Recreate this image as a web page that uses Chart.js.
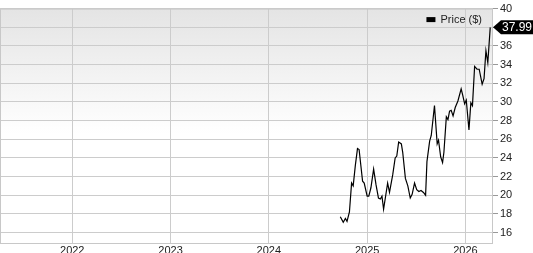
<!DOCTYPE html>
<html>
<head>
<meta charset="utf-8">
<script src="https://cdn.jsdelivr.net/npm/chart.js@4"></script>
<style>
  html, body { margin: 0; padding: 0; background: #fff; }
  #wrap { width: 533px; height: 253px; }
</style>
</head>
<body>
<div id="wrap"><canvas id="price_chart"></canvas></div>
<script>
// weekly-ish closes
var dates = ['2024-09-23','2024-10-04','2024-10-12','2024-10-18','2024-10-27','2024-11-04','2024-11-10','2024-11-18','2024-11-26','2024-12-02','2024-12-15','2024-12-21',
  '2025-01-01','2025-01-07','2025-01-15','2025-01-25','2025-02-03','2025-02-12','2025-02-19','2025-02-25','2025-03-03','2025-03-18','2025-03-25',
  '2025-04-06','2025-04-15','2025-04-21','2025-04-28','2025-05-08','2025-05-13','2025-05-23','2025-06-01','2025-06-10','2025-06-17','2025-06-26',
  '2025-07-04','2025-07-12','2025-07-20','2025-07-29','2025-08-06','2025-08-11','2025-08-21','2025-08-27','2025-09-08','2025-09-18','2025-09-23',
  '2025-10-01','2025-10-08','2025-10-13','2025-10-22','2025-10-28','2025-11-03','2025-11-09','2025-11-16','2025-11-24','2025-12-04','2025-12-16',
  '2025-12-22','2025-12-29','2026-01-04','2026-01-14','2026-01-21','2026-01-27','2026-02-04','2026-02-13','2026-02-21','2026-03-04','2026-03-11',
  '2026-03-18','2026-03-25','2026-04-03'];
var prices = [17.7,17.1,17.5,17.2,18.2,21.3,21.0,23.2,25.0,24.9,21.5,21.3,
  19.9,19.9,20.8,22.8,21.1,19.7,19.6,19.9,18.5,21.3,20.3,
  22.2,24.0,24.2,25.7,25.5,24.6,21.8,21.0,19.7,20.1,21.3,
  20.6,20.4,20.5,20.3,20.0,23.6,25.8,26.4,29.6,25.5,25.9,
  24.1,23.5,24.6,28.4,28.1,29.0,29.1,28.5,29.4,30.1,31.4,
  30.7,29.8,30.2,27.0,29.9,29.6,33.8,33.5,33.5,31.9,32.5,
  35.5,34.2,37.99];
var yearTicks = [2022, 2023, 2024, 2025, 2026];
var priceTicks = [16, 18, 20, 22, 24, 26, 28, 30, 32, 34, 36, 38, 40];

// date string -> decimal year
function toYear(s) {
  var p = s.split('-');
  var y = +p[0];
  var start = Date.UTC(y, 0, 1), end = Date.UTC(y + 1, 0, 1);
  return y + (Date.UTC(y, +p[1] - 1, +p[2]) - start) / (end - start);
}

var points = dates.map(function(d, i) { return { x: toYear(d), y: prices[i] }; });

var fontFam = '"Liberation Sans", Arial, sans-serif';

// gray-to-white background plus left/top border
var backdrop = {
  id: 'backdrop',
  beforeDraw: function(chart) {
    var a = chart.chartArea, ctx = chart.ctx;
    var g = ctx.createLinearGradient(0, a.top, 0, a.top + 125);
    g.addColorStop(0, '#e4e4e4');
    g.addColorStop(1, '#ffffff');
    ctx.save();
    ctx.fillStyle = g;
    ctx.fillRect(a.left, a.top, a.right - a.left, a.bottom - a.top);
    ctx.restore();
  },
  afterDatasetsDraw: function(chart) {
    var a = chart.chartArea, ctx = chart.ctx;
    ctx.save();
    ctx.strokeStyle = '#c8c8c8';
    ctx.lineWidth = 1;
    ctx.beginPath();
    ctx.moveTo(a.left + 0.5, a.bottom);
    ctx.lineTo(a.left + 0.5, a.top + 0.5);
    ctx.lineTo(a.right, a.top + 0.5);
    ctx.stroke();
    ctx.restore();
  }
};

// legend in the top right corner of the plot
var cornerLegend = {
  id: 'cornerLegend',
  afterDraw: function(chart) {
    var ctx = chart.ctx, a = chart.chartArea;
    var ds = chart.data.datasets[0];
    ctx.save();
    ctx.font = '11px ' + fontFam;
    var tw = ctx.measureText(ds.label).width;
    var tx = a.right - 10 - tw;
    var ty = a.top + 11;
    ctx.fillStyle = ds.borderColor;
    ctx.fillRect(tx - 14, ty - 2.5, 9, 5);
    ctx.fillStyle = '#222';
    ctx.textBaseline = 'middle';
    ctx.fillText(ds.label, tx, ty);
    ctx.restore();
  }
};

// black arrow tag with the last price
var lastTag = {
  id: 'lastTag',
  afterDraw: function(chart) {
    var ctx = chart.ctx, a = chart.chartArea;
    var last = prices[prices.length - 1];
    var y = chart.scales.y.getPixelForValue(last);
    var x0 = a.right + 1, w = chart.width;
    ctx.save();
    ctx.fillStyle = '#000';
    ctx.beginPath();
    ctx.moveTo(x0, y);
    ctx.lineTo(x0 + 8, y - 7);
    ctx.lineTo(w, y - 7);
    ctx.lineTo(w, y + 7);
    ctx.lineTo(x0 + 8, y + 7);
    ctx.closePath();
    ctx.fill();
    ctx.fillStyle = '#fff';
    ctx.font = '12px ' + fontFam;
    ctx.textAlign = 'center';
    ctx.textBaseline = 'middle';
    ctx.fillText(last.toFixed(2), (x0 + 8 + w) / 2, y + 0.5);
    ctx.restore();
  }
};

var chart = new Chart(document.getElementById('price_chart'), {
  type: 'line',
  data: {
    datasets: [{
      label: 'Price ($)',
      data: points,
      borderColor: '#000',
      backgroundColor: '#000',
      borderWidth: 1.2,
      pointRadius: 0,
      tension: 0
    }]
  },
  options: {
    responsive: true,
    maintainAspectRatio: false,
    animation: false,
    layout: { padding: { top: 3, left: 0, right: 0, bottom: 0 } },
    plugins: {
      legend: { display: false },
      tooltip: { enabled: false }
    },
    scales: {
      x: {
        type: 'linear',
        min: 2021.265,
        max: 2026.27,
        afterBuildTicks: function(s) { s.ticks = yearTicks.map(function(v) { return { value: v }; }); },
        afterFit: function(s) { s.height = 10; },
        grid: { color: '#cccccc', drawTicks: false },
        border: { color: '#c8c8c8' },
        ticks: {
          color: '#222',
          padding: 1,
          maxRotation: 0,
          font: { family: fontFam, size: 11 },
          callback: function(v) { return String(v); }
        }
      },
      y: {
        position: 'right',
        min: 14.88,
        max: 40,
        afterBuildTicks: function(s) { s.ticks = priceTicks.map(function(v) { return { value: v }; }); },
        afterFit: function(s) { s.width = 41; },
        grid: { color: '#cccccc', tickLength: 6, tickColor: '#999' },
        border: { color: '#c8c8c8' },
        ticks: {
          color: '#222',
          padding: 2,
          font: { family: fontFam, size: 11 }
        }
      }
    }
  },
  plugins: [backdrop, cornerLegend, lastTag]
});
</script>
</body>
</html>
